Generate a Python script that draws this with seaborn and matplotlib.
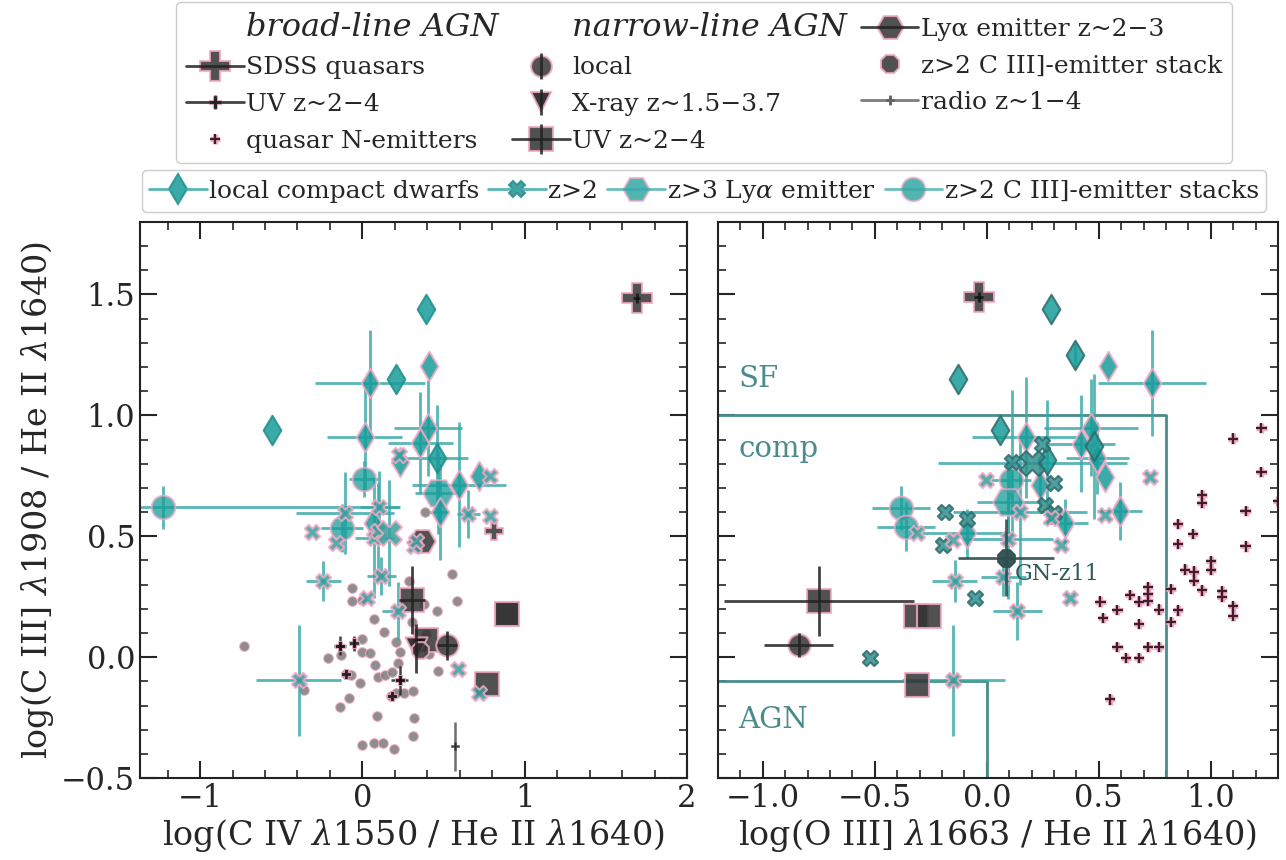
import numpy as np
import matplotlib
matplotlib.use('Agg')
import matplotlib.pyplot as plt
import matplotlib.patheffects as pe
from matplotlib.lines import Line2D
from matplotlib.legend_handler import HandlerTuple
from matplotlib.ticker import MultipleLocator
import seaborn as sns

# ---------------- data : left panel (x = log CIV/HeII) ----------------
L_sdss_x = [1.69]; L_sdss_y = [1.485]
L_blother_x = [0.81]; L_blother_y = [0.522]
L_uvb_x = [-0.138, -0.05, 0.229, -0.10, 0.18]
L_uvb_y = [0.048, 0.057, -0.095, -0.07, -0.16]
L_uvb_xe = [0.04, 0.0, 0.05, 0.0, 0.0]
L_uvb_ye = [0.04, 0.03, 0.06, 0.0, 0.0]
L_radio_x = [0.568]; L_radio_y = [-0.369]; L_radio_ye = [0.1]
L_dots_x = [-0.73, -0.066, -0.066, 0.0, 0.072, 0.131, 0.0, -0.133, -0.21, 0.0, 0.048, 0.207,
            0.231, 0.218, 0.079, -0.103, -0.072, -0.017, 0.098, 0.14, 0.181, 0.179, 0.258, 0.312,
            0.207, -0.083, -0.138, 0.09, 0.319, 0.312, 0.0, 0.072, 0.127, 0.194, 0.29, 0.555,
            0.583, 0.459, 0.378, 0.306, 0.395, 0.413, 0.463, -0.362, 0.384]
L_dots_y = [0.048, 0.285, 0.231, 0.236, 0.156, 0.105, 0.077, 0.008, -0.004, 0.022, 0.019, 0.061,
            0.022, -0.023, -0.032, -0.07, -0.075, -0.108, -0.084, -0.075, -0.062, -0.16, -0.149, -0.138,
            -0.148, -0.17, -0.207, -0.243, -0.253, -0.325, -0.365, -0.355, -0.355, -0.378, 0.315, 0.344,
            0.231, 0.192, 0.218, 0.144, 0.095, 0.015, -0.059, -0.134, 0.602]
L_loc_x = [0.522]; L_loc_y = [0.05]; L_loc_xe = [0.06]; L_loc_ye = [0.06]
L_xray_x = [0.33]; L_xray_y = [0.036]; L_xray_ye = [0.1]
L_uvn_x = [0.306, 0.395, 0.89, 0.89, 0.766]
L_uvn_y = [0.236, 0.07, 0.177, 0.177, -0.112]
L_uvn_xe = [0.08, 0.0, 0.0, 0.0, 0.0]
L_uvn_ye = [0.14, 0.0, 0.0, 0.0, 0.0]
L_lya_x = [0.367]; L_lya_y = [0.48]
L_c3stk_x = [0.356]; L_c3stk_y = [0.029]

L_dwp_x = [0.41, 0.046, 0.013, 0.406, 0.356, 0.596, 0.716, 0.476, 0.234, 0.064]
L_dwp_y = [1.203, 1.135, 0.91, 0.948, 0.887, 0.714, 0.749, 0.6, 0.806, 0.553]
L_dwp_xe = [0.0, 0.34, 0.23, 0.21, 0.2, 0.29, 0.0, 0.06, 0.0, 0.0]
L_dwp_ye = [0.0, 0.22, 0.22, 0.2, 0.21, 0.26, 0.0, 0.2, 0.0, 0.0]
L_dwt_x = [-0.557, 0.393, 0.207, 0.461]
L_dwt_y = [0.94, 1.438, 1.149, 0.823]
L_dwt_xe = [0.0, 0.0, 0.0, 0.19]
L_dwt_ye = [0.0, 0.0, 0.0, 0.22]
L_z2_x = [0.228, 0.788, 0.652, 0.788, 0.105, -0.106, -0.161, 0.074, 0.095, 0.32, 0.33, -0.31,
          -0.24, 0.028, 0.116, 0.218, -0.393, 0.592, 0.716]
L_z2_y = [0.836, 0.748, 0.593, 0.584, 0.622, 0.597, 0.472, 0.493, 0.52, 0.459, 0.48, 0.519,
          0.315, 0.243, 0.336, 0.192, -0.095, -0.047, -0.148]
L_z2_xe = [0.0, 0.0, 0.07, 0.0, 0.12, 0.3, 0.0, 0.12, 0.0, 0.0, 0.0, 0.0,
           0.106, 0.0, 0.09, 0.1, 0.262, 0.0, 0.0]
L_z2_ye = [0.0, 0.0, 0.1, 0.0, 0.15, 0.17, 0.0, 0.25, 0.2, 0.0, 0.0, 0.0,
           0.083, 0.0, 0.08, 0.12, 0.23, 0.0, 0.0]
L_z2big_x = [0.167]; L_z2big_y = [0.514]; L_z2big_ye = [0.22]
L_lyat_x = [0.464]; L_lyat_y = [0.68]; L_lyat_xe = [0.14]; L_lyat_ye = [0.17]
L_c3t_x = [0.009, -0.126, -1.231]
L_c3t_y = [0.736, 0.535, 0.619]
L_c3t_xe = [0.09, 0.13, 1.46]
L_c3t_ye = [0.075, 0.1, 0.09]

# ---------------- data : right panel (x = log OIII]/HeII) ----------------
R_sdss_x = [-0.035]; R_sdss_y = [1.49]
R_loc_x = [-0.84]; R_loc_y = [0.05]; R_loc_xe = [0.155]; R_loc_ye = [0.05]
R_uvn_x = [-0.75, -0.315, -0.26, -0.31]
R_uvn_y = [0.233, 0.172, 0.172, -0.115]
R_uvn_xe = [0.425, 0.0, 0.0, 0.0]
R_uvn_ye = [0.145, 0.0, 0.0, 0.0]
R_gnz11_x = [0.087]; R_gnz11_y = [0.412]; R_gnz11_xe = [0.215]; R_gnz11_ye = [0.16]
R_qn_x = [1.226, 1.10, 1.226, 1.30, 0.96, 0.96, 1.155, 1.155, 0.852, 0.92,
          0.852, 0.884, 0.925, 0.925, 0.96, 1.00, 1.00, 1.05, 1.05, 1.10,
          1.10, 0.823, 0.854, 0.823, 0.768, 0.72, 0.72, 0.72, 0.678, 0.638,
          0.678, 0.583, 0.507, 0.52, 0.583, 0.62, 0.678, 0.72, 0.768, 0.55]
R_qn_y = [0.947, 0.904, 0.767, 0.646, 0.672, 0.637, 0.604, 0.458, 0.55, 0.51,
          0.467, 0.362, 0.354, 0.317, 0.276, 0.396, 0.36, 0.272, 0.25, 0.21,
          0.172, 0.283, 0.193, 0.146, 0.197, 0.29, 0.262, 0.233, 0.23, 0.258,
          0.137, 0.196, 0.23, 0.162, 0.043, -0.004, -0.004, 0.042, 0.043, -0.175]

R_dwp_x = [0.539, 0.738, 0.175, 0.465, 0.421, 0.493, 0.526, 0.237, 0.593, -0.09, 0.351]
R_dwp_y = [1.203, 1.134, 0.91, 0.949, 0.883, 0.823, 0.747, 0.714, 0.604, 0.512, 0.554]
R_dwp_xe = [0.0, 0.24, 0.24, 0.21, 0.15, 0.14, 0.0, 0.0, 0.1, 0.2, 0.1]
R_dwp_ye = [0.0, 0.22, 0.25, 0.2, 0.2, 0.15, 0.0, 0.1, 0.12, 0.1, 0.1]
R_dwt_x = [0.286, -0.127, 0.059, 0.269, 0.392, 0.478]
R_dwt_y = [1.438, 1.149, 0.94, 0.814, 1.251, 0.872]
R_dwt_xe = [0.0, 0.0, 0.0, 0.0, 0.0, 0.0]
R_dwt_ye = [0.0, 0.0, 0.0, 0.25, 0.05, 0.3]
R_z2d_x = [0.248, 0.111, 0.302, -0.188, -0.087, -0.196, 0.261, 0.302, -0.054, -0.522]
R_z2d_y = [0.883, 0.807, 0.721, 0.602, 0.572, 0.464, 0.63, 0.595, 0.243, -0.003]
R_z2d_xe = [0.0, 0.0, 0.0, 0.0, 0.0, 0.0, 0.0, 0.0, 0.0, 0.0]
R_z2d_ye = [0.0, 0.3, 0.0, 0.0, 0.0, 0.0, 0.0, 0.0, 0.0, 0.0]
R_z2p_x = [-0.005, 0.727, -0.152, -0.31, 0.095, 0.147, 0.286, 0.33, 0.526, 0.073,
           -0.144, 0.136, 0.371, -0.15]
R_z2p_y = [0.731, 0.744, 0.485, 0.512, 0.489, 0.6, 0.575, 0.464, 0.588, 0.333,
           0.315, 0.192, 0.246, -0.095]
R_z2p_xe = [0.0, 0.0, 0.0, 0.0, 0.2, 0.3, 0.0, 0.0, 0.0, 0.1,
            0.1, 0.11, 0.0, 0.23]
R_z2p_ye = [0.0, 0.0, 0.0, 0.0, 0.25, 0.3, 0.0, 0.0, 0.0, 0.08,
            0.085, 0.12, 0.0, 0.23]
R_z2big_x = [0.204]; R_z2big_y = [0.802]; R_z2big_xe = [0.42]
R_lyat_x = [0.095]; R_lyat_y = [0.641]; R_lyat_xe = [0.14]; R_lyat_ye = [0.17]
R_c3t_x = [0.108, -0.384, -0.359]
R_c3t_y = [0.731, 0.617, 0.54]
R_c3t_xe = [0.09, 0.13, 0.13]
R_c3t_ye = [0.075, 0.09, 0.1]

# classification boundaries
SF_x = [-1.2, 0.8, 0.8]; SF_y = [1.0, 1.0, -0.5]
AGN_x = [-1.2, 0.0, 0.0]; AGN_y = [-0.1, -0.1, -0.5]

# ---------------- style ----------------
sns.set_theme(style='ticks')
plt.rcParams['font.family'] = ['DejaVu Serif']
plt.rcParams['mathtext.fontset'] = 'dejavuserif'
plt.rcParams['axes.linewidth'] = 1.5

TEAL = '#179d99'
TEAL_E = '#1f8f8c'
TEAL_BAR = '#3aa9a9'
TEAL_DK = '#2e6b6b'
DARK = '#333333'
PINK = '#f4a8c4'
DOT = '#7a7a7a'
MAROON = '#3d1f2a'
LINEC = '#4a8c8c'

fig = plt.figure(figsize=(12.86, 8.6), dpi=100)
axL = fig.add_axes([0.1089, 0.0953, 0.4253, 0.6466])
axR = fig.add_axes([0.5583, 0.0953, 0.4355, 0.6466])


def bars(ax, x, y, xe=None, ye=None, color=TEAL_BAR, lw=2.0, alpha=0.85, z=2):
    ax.errorbar(x, y, xerr=xe, yerr=ye, fmt='none', ecolor=color, elinewidth=lw,
                alpha=alpha, capsize=0, zorder=z)


def marks(ax, x, y, marker, ms, fc, ec, lw=1.5, alpha=0.85, z=3):
    sns.scatterplot(x=x, y=y, ax=ax, marker=marker, s=ms ** 2, color=fc, edgecolor=ec,
                    linewidth=lw, alpha=alpha, zorder=z, legend=False)


# ---------- left panel ----------
ax = axL
marks(ax, L_dots_x, L_dots_y, 'o', 7, DOT, PINK, lw=0.8, alpha=0.85, z=1)
bars(ax, L_uvn_x, L_uvn_y, L_uvn_xe, L_uvn_ye, color='#222222', z=4)
marks(ax, L_uvn_x, L_uvn_y, 's', 17, DARK, PINK, z=3)
bars(ax, L_xray_x, L_xray_y, None, L_xray_ye, color='#222222', z=4)
marks(ax, L_xray_x, L_xray_y, 'v', 16, '#111111', PINK, z=3)
marks(ax, L_c3stk_x, L_c3stk_y, '8', 13, DARK, PINK, z=3)
bars(ax, L_loc_x, L_loc_y, L_loc_xe, L_loc_ye, color='#222222', z=4)
marks(ax, L_loc_x, L_loc_y, 'o', 16, DARK, PINK, z=3)
marks(ax, L_lya_x, L_lya_y, 'H', 19, DARK, PINK, z=3)
bars(ax, L_sdss_x, L_sdss_y, [0.02], [0.02], color='#111111', z=4)
marks(ax, L_sdss_x, L_sdss_y, 'P', 21, DARK, PINK, z=3)
marks(ax, L_blother_x, L_blother_y, 'P', 13, DARK, PINK, z=3)
bars(ax, L_uvb_x, L_uvb_y, L_uvb_xe, L_uvb_ye, color='#222222', lw=1.8, z=4)
marks(ax, L_uvb_x, L_uvb_y, 'P', 7, '#111111', PINK, lw=0.8, z=4)
bars(ax, L_radio_x, L_radio_y, None, L_radio_ye, color='#555555', lw=1.8, z=4)
marks(ax, L_radio_x, L_radio_y, 'P', 6, '#222222', '#555555', lw=0.5, z=4)
bars(ax, L_dwp_x, L_dwp_y, L_dwp_xe, L_dwp_ye)
bars(ax, L_dwt_x, L_dwt_y, L_dwt_xe, L_dwt_ye)
bars(ax, L_z2_x, L_z2_y, L_z2_xe, L_z2_ye)
bars(ax, L_z2big_x, L_z2big_y, None, L_z2big_ye)
bars(ax, L_lyat_x, L_lyat_y, L_lyat_xe, L_lyat_ye)
bars(ax, L_c3t_x, L_c3t_y, L_c3t_xe, L_c3t_ye)
marks(ax, L_c3t_x, L_c3t_y, 'o', 17, TEAL, PINK, alpha=0.75, z=5)
marks(ax, L_lyat_x, L_lyat_y, 'H', 22, TEAL, PINK, alpha=0.75, z=5)
marks(ax, L_dwp_x, L_dwp_y, 'd', 15, TEAL, PINK, z=5)
marks(ax, L_dwt_x, L_dwt_y, 'd', 15, TEAL, TEAL_E, z=5)
marks(ax, L_z2_x, L_z2_y, 'X', 11, '#3a9f9d', PINK, z=5)
marks(ax, L_z2big_x, L_z2big_y, 'X', 18, '#3a9f9d', PINK, z=5)

# ---------- right panel ----------
ax = axR
ax.plot(SF_x, SF_y, color=LINEC, lw=2, zorder=1)
ax.plot(AGN_x, AGN_y, color=LINEC, lw=2, zorder=1)
ax.text(-1.11, 1.15, 'SF', color=LINEC, fontsize=21, va='center', ha='left')
ax.text(-1.11, 0.86, 'comp', color=LINEC, fontsize=21, va='center', ha='left')
ax.text(-1.11, -0.26, 'AGN', color=LINEC, fontsize=21, va='center', ha='left')

ax.scatter(R_qn_x, R_qn_y, marker='+', s=55, color=MAROON, linewidths=1.6, zorder=2,
           path_effects=[pe.Stroke(linewidth=3.8, foreground=PINK), pe.Normal()])
bars(ax, R_uvn_x, R_uvn_y, R_uvn_xe, R_uvn_ye, color='#222222', z=4)
marks(ax, R_uvn_x, R_uvn_y, 's', 17, DARK, PINK, z=3)
bars(ax, R_loc_x, R_loc_y, R_loc_xe, R_loc_ye, color='#222222', z=4)
marks(ax, R_loc_x, R_loc_y, 'o', 16, DARK, PINK, z=3)
bars(ax, R_sdss_x, R_sdss_y, [0.02], [0.02], color='#111111', z=4)
marks(ax, R_sdss_x, R_sdss_y, 'P', 21, DARK, PINK, z=3)

bars(ax, R_dwp_x, R_dwp_y, R_dwp_xe, R_dwp_ye)
bars(ax, R_dwt_x, R_dwt_y, R_dwt_xe, R_dwt_ye)
bars(ax, R_z2d_x, R_z2d_y, R_z2d_xe, R_z2d_ye)
bars(ax, R_z2p_x, R_z2p_y, R_z2p_xe, R_z2p_ye)
bars(ax, R_z2big_x, R_z2big_y, R_z2big_xe, None)
bars(ax, R_lyat_x, R_lyat_y, R_lyat_xe, R_lyat_ye)
bars(ax, R_c3t_x, R_c3t_y, R_c3t_xe, R_c3t_ye)
marks(ax, R_c3t_x, R_c3t_y, 'o', 17, TEAL, PINK, alpha=0.75, z=5)
marks(ax, R_lyat_x, R_lyat_y, 'H', 22, TEAL, PINK, alpha=0.75, z=5)
marks(ax, R_dwp_x, R_dwp_y, 'd', 15, TEAL, PINK, z=5)
marks(ax, R_dwt_x, R_dwt_y, 'd', 15, TEAL, TEAL_DK, z=5)
marks(ax, R_z2d_x, R_z2d_y, 'X', 11, '#2f908d', TEAL_DK, z=5)
marks(ax, R_z2big_x, R_z2big_y, 'X', 18, '#2f908d', TEAL_DK, z=5)
marks(ax, R_z2p_x, R_z2p_y, 'X', 11, '#3a9f9d', PINK, z=5)
bars(ax, R_gnz11_x, R_gnz11_y, R_gnz11_xe, R_gnz11_ye, color='#2f4f4f', alpha=0.9, z=6)
marks(ax, R_gnz11_x, R_gnz11_y, '8', 13, '#2f4f4f', '#2f4f4f', alpha=0.95, z=6)
ax.text(R_gnz11_x[0] + 0.04, R_gnz11_y[0] - 0.07, 'GN-z11', color='#2f5a5a', fontsize=16,
        va='center', ha='left', zorder=7)

# ---------- axes cosmetics ----------
for ax in (axL, axR):
    ax.set_ylim(-0.5, 1.8)
    ax.yaxis.set_major_locator(MultipleLocator(0.5))
    ax.yaxis.set_minor_locator(MultipleLocator(0.1))
    ax.tick_params(which='both', direction='in', top=True, right=True, labelsize=22)
    ax.tick_params(which='major', length=12, width=1.5)
    ax.tick_params(which='minor', length=6, width=1.2)
    for s in ax.spines.values():
        s.set_linewidth(1.5)
        s.set_color('#222222')

axL.set_xlim(-1.37, 2.0)
axL.xaxis.set_major_locator(MultipleLocator(1))
axL.xaxis.set_minor_locator(MultipleLocator(0.2))
axL.set_xlabel(r'log(C IV $\lambda$1550 / He II $\lambda$1640)', fontsize=24, labelpad=2)
axL.set_ylabel(r'log(C III] $\lambda$1908 / He II $\lambda$1640)', fontsize=24, labelpad=4)

axR.set_xlim(-1.2, 1.3)
axR.xaxis.set_major_locator(MultipleLocator(0.5))
axR.xaxis.set_minor_locator(MultipleLocator(0.1))
axR.tick_params(labelleft=False)
axR.set_xlabel(r'log(O III] $\lambda$1663 / He II $\lambda$1640)', fontsize=24, labelpad=2)
axR.set_ylabel('')


# ---------- legends ----------
def H(marker, ms, fc, ec, lc, h=True, v=True, alpha=0.85, lw=2.0, mew=1.5):
    parts = [Line2D([], [], ls='', marker=marker, ms=ms, mfc=fc, mec=ec, mew=mew, alpha=alpha)]
    if h:
        parts.append(Line2D([], [], color=lc, lw=lw, alpha=alpha))
    if v:
        parts.append(Line2D([], [], ls='', marker='|', ms=ms * 1.25, mew=lw, color=lc, alpha=alpha))
    return tuple(parts)


blank = Line2D([], [], alpha=0)
qn_handle = Line2D([], [], ls='', marker='+', ms=7, mew=1.6, color=MAROON,
                   path_effects=[pe.Stroke(linewidth=3.8, foreground=PINK), pe.Normal()])

h1 = [blank,
      H('P', 21, DARK, PINK, '#222222', h=True, v=False),
      H('P', 8, '#111111', PINK, '#222222', h=True, v=True, mew=0.8),
      qn_handle,
      blank,
      H('o', 15, DARK, PINK, '#222222', h=False, v=True),
      H('v', 15, '#111111', PINK, '#222222', h=False, v=True),
      H('s', 17, DARK, PINK, '#222222', h=True, v=True),
      H('H', 19, DARK, PINK, '#222222', h=True, v=False),
      H('8', 14, DARK, PINK, '#222222', h=False, v=False),
      H('P', 6, '#222222', '#555555', '#666666', h=True, v=True, mew=0.5),
      blank]
l1 = ['broad-line AGN', 'SDSS quasars', 'UV z~2\u22124', 'quasar N-emitters',
      'narrow-line AGN', 'local', 'X-ray z~1.5\u22123.7', 'UV z~2\u22124',
      'Ly\u03b1 emitter z~2\u22123', 'z>2 C III]-emitter stack', 'radio z~1\u22124', '']
leg1 = fig.legend(h1, l1, ncol=3, loc='upper center', bbox_to_anchor=(0.5475, 0.998),
                  borderaxespad=0.0,
                  fontsize=18, handlelength=2.3, handletextpad=0.1, columnspacing=0.55,
                  labelspacing=0.55, borderpad=0.4, frameon=True, framealpha=1,
                  edgecolor='#cccccc', handler_map={tuple: HandlerTuple(ndivide=1, pad=0)})
for i in (0, 4):
    t = leg1.get_texts()[i]
    t.set_fontsize(23)
    t.set_style('italic')

h2 = [H('d', 15, TEAL, TEAL_E, TEAL_BAR, h=True, v=True),
      H('X', 11, '#2f908d', TEAL_E, TEAL_BAR, h=True, v=False),
      H('H', 19, TEAL, PINK, TEAL_BAR, h=True, v=False, alpha=0.75),
      H('o', 17, TEAL, PINK, TEAL_BAR, h=True, v=False, alpha=0.75)]
l2 = ['local compact dwarfs', 'z>2', r'z>3 Ly$\alpha$ emitter', 'z>2 C III]-emitter stacks']
leg2 = fig.legend(h2, l2, ncol=4, loc='upper center', bbox_to_anchor=(0.5475, 0.802),
                  borderaxespad=0.0,
                  fontsize=18, handlelength=2.3, handletextpad=0.1, columnspacing=0.35,
                  borderpad=0.3, frameon=True, framealpha=1, edgecolor='#cccccc',
                  handler_map={tuple: HandlerTuple(ndivide=1, pad=0)})

fig.savefig('out.png', dpi=100)
